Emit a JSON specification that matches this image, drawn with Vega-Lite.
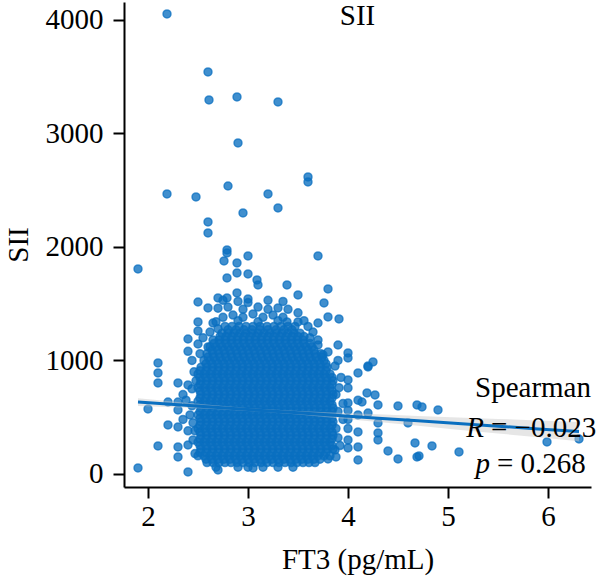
{
  "$schema": "https://vega.github.io/schema/vega-lite/v6.json",
  "width": 467,
  "height": 485,
  "autosize": "none",
  "padding": {"left": 124, "top": 2, "right": 9, "bottom": 97},
  "background": "white",
  "title": {"text": "SII", "anchor": "middle", "frame": "group", "offset": -29, "fontSize": 29, "font": "Liberation Serif", "fontWeight": "normal", "color": "black"},
  "config": {
    "font": "Liberation Serif",
    "view": {"stroke": null},
    "axis": {"domainColor": "black", "domainWidth": 2, "tickColor": "black", "tickWidth": 2, "tickSize": 11, "labelFontSize": 29, "titleFontSize": 29, "labelColor": "black", "titleColor": "black", "titleFontWeight": "normal", "labelFont": "Liberation Serif", "titleFont": "Liberation Serif", "grid": false}
  },
  "datasets": {
    "points": [
      {"x":2.19,"y":4053},{"x":2.6,"y":3542},{"x":2.61,"y":3295},{"x":2.89,"y":3322},{"x":3.3,"y":3278},{"x":2.9,"y":2916},{"x":2.19,"y":2467},{"x":2.48,"y":2441},{"x":2.8,"y":2537},{"x":3.2,"y":2467},{"x":2.95,"y":2300},{"x":3.3,"y":2344},{"x":2.6,"y":2220},{"x":2.6,"y":2123},{"x":3.6,"y":2617},{"x":3.6,"y":2573},{"x":2.79,"y":1974},{"x":1.9,"y":1806},{"x":2.79,"y":1947},{"x":3.0,"y":1921},{"x":2.76,"y":1877},{"x":2.89,"y":1859},{"x":2.89,"y":1771},{"x":3.0,"y":1762},{"x":2.79,"y":1727},{"x":3.09,"y":1709},{"x":3.1,"y":1665},{"x":2.89,"y":1595},{"x":2.5,"y":1515},{"x":2.7,"y":1551},{"x":2.79,"y":1551},{"x":3.0,"y":1542},{"x":2.6,"y":1463},{"x":2.5,"y":1339},{"x":2.5,"y":1260},{"x":2.4,"y":1189},{"x":2.5,"y":1145},{"x":2.6,"y":1119},{"x":2.1,"y":978},{"x":3.7,"y":1921},{"x":3.39,"y":1665},{"x":3.5,"y":1577},{"x":3.8,"y":1630},{"x":3.76,"y":1507},{"x":3.8,"y":1383},{"x":3.91,"y":1366},{"x":3.7,"y":1330},{"x":3.5,"y":1339},{"x":3.39,"y":1339},{"x":3.3,"y":1463},{"x":3.9,"y":1136},{"x":4.0,"y":1066},{"x":4.0,"y":1022},{"x":4.25,"y":987},{"x":4.2,"y":952},{"x":3.7,"y":1136},{"x":3.8,"y":1075},
      {"x":1.9,"y":53},{"x":2.1,"y":247},{"x":2.2,"y":432},{"x":2.0,"y":573},{"x":2.2,"y":634},{"x":2.3,"y":802},{"x":2.4,"y":784},{"x":2.1,"y":890},{"x":2.1,"y":802},{"x":2.3,"y":634},{"x":2.3,"y":564},{"x":2.3,"y":414},{"x":2.3,"y":238},{"x":2.3,"y":150},{"x":2.4,"y":256},{"x":2.4,"y":18},{"x":2.7,"y":35},{"x":3.05,"y":53},
      {"x":4.1,"y":890},{"x":4.2,"y":943},{"x":4.0,"y":828},{"x":4.0,"y":758},{"x":4.19,"y":714},{"x":4.27,"y":696},{"x":4.14,"y":634},{"x":4.3,"y":608},{"x":4.5,"y":599},{"x":4.69,"y":608},{"x":4.0,"y":626},{"x":4.2,"y":537},{"x":4.6,"y":449},{"x":4.3,"y":449},{"x":4.3,"y":361},{"x":4.3,"y":300},{"x":4.1,"y":370},{"x":4.0,"y":300},{"x":4.0,"y":229},{"x":3.87,"y":211},{"x":4.1,"y":238},{"x":4.4,"y":203},{"x":4.67,"y":273},{"x":4.5,"y":132},{"x":4.69,"y":150},{"x":4.1,"y":123},{"x":3.8,"y":132},{"x":4.9,"y":564},{"x":4.74,"y":590},{"x":4.84,"y":247},{"x":5.11,"y":194},{"x":5.99,"y":282},{"x":6.31,"y":308},{"x":4.71,"y":159},
      {"x":4.0,"y":400},{"x":4.0,"y":480},{"x":4.0,"y":560},{"x":4.1,"y":520},{"x":4.1,"y":650},
      {"x":2.45,"y":300},{"x":2.45,"y":450},{"x":2.44,"y":600},{"x":2.44,"y":750},{"x":2.42,"y":520},{"x":2.4,"y":380},{"x":2.38,"y":650},{"x":2.35,"y":480},{"x":2.46,"y":900},{"x":2.44,"y":1000},{"x":2.4,"y":1080},{"x":2.35,"y":700},
      {"x":3.88,"y":400},{"x":3.9,"y":550},{"x":3.88,"y":700},{"x":3.92,"y":250},{"x":3.93,"y":850},{"x":3.87,"y":950},{"x":3.9,"y":1000},{"x":3.88,"y":150},{"x":3.95,"y":480},{"x":3.95,"y":620},
      {"x":2.75,"y":1380},{"x":2.85,"y":1400},{"x":2.95,"y":1380},{"x":3.05,"y":1410},{"x":3.15,"y":1380},{"x":3.25,"y":1400},{"x":3.35,"y":1380},{"x":3.5,"y":1420},{"x":2.7,"y":1460},{"x":2.8,"y":1470},{"x":2.95,"y":1450},{"x":3.1,"y":1470},{"x":3.2,"y":1450},{"x":3.4,"y":1450},{"x":2.75,"y":1530},{"x":2.9,"y":1520},{"x":3.0,"y":1510},{"x":3.2,"y":1530},{"x":3.35,"y":1520},{"x":2.65,"y":1330},{"x":3.6,"y":1300},{"x":3.65,"y":1250},{"x":2.7,"y":1280},
      {"x":2.62,"y":1250},{"x":2.68,"y":1340},{"x":3.56,"y":1350},{"x":3.62,"y":1200},{"x":3.7,"y":1180},{"x":3.75,"y":1050},{"x":2.55,"y":1200},{"x":2.52,"y":1060},{"x":2.9,"y":1350},{"x":3.1,"y":1340},{"x":3.3,"y":1350},{"x":2.48,"y":820},{"x":2.47,"y":380},{"x":2.47,"y":180},{"x":3.9,"y":320},{"x":3.91,"y":760},
      {"x":2.68,"y":60},{"x":2.9,"y":60},{"x":3.0,"y":60},{"x":3.15,"y":60},{"x":3.3,"y":60},{"x":3.45,"y":60},
      {"x":2.59,"y":100},{"x":2.65,"y":100},{"x":2.71,"y":100},{"x":2.77,"y":100},{"x":2.83,"y":100},{"x":2.89,"y":100},{"x":2.95,"y":100},{"x":3.01,"y":100},{"x":3.07,"y":100},{"x":3.13,"y":100},{"x":3.19,"y":100},{"x":3.25,"y":100},{"x":3.31,"y":100},{"x":3.37,"y":100},{"x":3.43,"y":100},{"x":3.49,"y":100},{"x":3.55,"y":100},{"x":3.61,"y":100},{"x":3.67,"y":100},
      {"x":2.5,"y":160},{"x":2.56,"y":160},{"x":2.62,"y":160},{"x":2.68,"y":160},{"x":2.74,"y":160},{"x":2.8,"y":160},{"x":2.86,"y":160},{"x":2.92,"y":160},{"x":2.98,"y":160},{"x":3.04,"y":160},{"x":3.1,"y":160},{"x":3.16,"y":160},{"x":3.22,"y":160},{"x":3.28,"y":160},{"x":3.34,"y":160},{"x":3.4,"y":160},{"x":3.46,"y":160},{"x":3.52,"y":160},{"x":3.58,"y":160},{"x":3.64,"y":160},{"x":3.7,"y":160},{"x":3.76,"y":160},{"x":3.82,"y":160},
      {"x":2.53,"y":220},{"x":2.59,"y":220},{"x":2.65,"y":220},{"x":2.71,"y":220},{"x":2.77,"y":220},{"x":2.83,"y":220},{"x":2.89,"y":220},{"x":2.95,"y":220},{"x":3.01,"y":220},{"x":3.07,"y":220},{"x":3.13,"y":220},{"x":3.19,"y":220},{"x":3.25,"y":220},{"x":3.31,"y":220},{"x":3.37,"y":220},{"x":3.43,"y":220},{"x":3.49,"y":220},{"x":3.55,"y":220},{"x":3.61,"y":220},{"x":3.67,"y":220},{"x":3.73,"y":220},{"x":3.79,"y":220},{"x":3.85,"y":220},
      {"x":2.5,"y":280},{"x":2.56,"y":280},{"x":2.62,"y":280},{"x":2.68,"y":280},{"x":2.74,"y":280},{"x":2.8,"y":280},{"x":2.86,"y":280},{"x":2.92,"y":280},{"x":2.98,"y":280},{"x":3.04,"y":280},{"x":3.1,"y":280},{"x":3.16,"y":280},{"x":3.22,"y":280},{"x":3.28,"y":280},{"x":3.34,"y":280},{"x":3.4,"y":280},{"x":3.46,"y":280},{"x":3.52,"y":280},{"x":3.58,"y":280},{"x":3.64,"y":280},{"x":3.7,"y":280},{"x":3.76,"y":280},{"x":3.82,"y":280},
      {"x":2.53,"y":340},{"x":2.59,"y":340},{"x":2.65,"y":340},{"x":2.71,"y":340},{"x":2.77,"y":340},{"x":2.83,"y":340},{"x":2.89,"y":340},{"x":2.95,"y":340},{"x":3.01,"y":340},{"x":3.07,"y":340},{"x":3.13,"y":340},{"x":3.19,"y":340},{"x":3.25,"y":340},{"x":3.31,"y":340},{"x":3.37,"y":340},{"x":3.43,"y":340},{"x":3.49,"y":340},{"x":3.55,"y":340},{"x":3.61,"y":340},{"x":3.67,"y":340},{"x":3.73,"y":340},{"x":3.79,"y":340},{"x":3.85,"y":340},
      {"x":2.5,"y":400},{"x":2.56,"y":400},{"x":2.62,"y":400},{"x":2.68,"y":400},{"x":2.74,"y":400},{"x":2.8,"y":400},{"x":2.86,"y":400},{"x":2.92,"y":400},{"x":2.98,"y":400},{"x":3.04,"y":400},{"x":3.1,"y":400},{"x":3.16,"y":400},{"x":3.22,"y":400},{"x":3.28,"y":400},{"x":3.34,"y":400},{"x":3.4,"y":400},{"x":3.46,"y":400},{"x":3.52,"y":400},{"x":3.58,"y":400},{"x":3.64,"y":400},{"x":3.7,"y":400},{"x":3.76,"y":400},{"x":3.82,"y":400},
      {"x":2.53,"y":460},{"x":2.59,"y":460},{"x":2.65,"y":460},{"x":2.71,"y":460},{"x":2.77,"y":460},{"x":2.83,"y":460},{"x":2.89,"y":460},{"x":2.95,"y":460},{"x":3.01,"y":460},{"x":3.07,"y":460},{"x":3.13,"y":460},{"x":3.19,"y":460},{"x":3.25,"y":460},{"x":3.31,"y":460},{"x":3.37,"y":460},{"x":3.43,"y":460},{"x":3.49,"y":460},{"x":3.55,"y":460},{"x":3.61,"y":460},{"x":3.67,"y":460},{"x":3.73,"y":460},{"x":3.79,"y":460},{"x":3.85,"y":460},
      {"x":2.5,"y":520},{"x":2.56,"y":520},{"x":2.62,"y":520},{"x":2.68,"y":520},{"x":2.74,"y":520},{"x":2.8,"y":520},{"x":2.86,"y":520},{"x":2.92,"y":520},{"x":2.98,"y":520},{"x":3.04,"y":520},{"x":3.1,"y":520},{"x":3.16,"y":520},{"x":3.22,"y":520},{"x":3.28,"y":520},{"x":3.34,"y":520},{"x":3.4,"y":520},{"x":3.46,"y":520},{"x":3.52,"y":520},{"x":3.58,"y":520},{"x":3.64,"y":520},{"x":3.7,"y":520},{"x":3.76,"y":520},{"x":3.82,"y":520},
      {"x":2.53,"y":580},{"x":2.59,"y":580},{"x":2.65,"y":580},{"x":2.71,"y":580},{"x":2.77,"y":580},{"x":2.83,"y":580},{"x":2.89,"y":580},{"x":2.95,"y":580},{"x":3.01,"y":580},{"x":3.07,"y":580},{"x":3.13,"y":580},{"x":3.19,"y":580},{"x":3.25,"y":580},{"x":3.31,"y":580},{"x":3.37,"y":580},{"x":3.43,"y":580},{"x":3.49,"y":580},{"x":3.55,"y":580},{"x":3.61,"y":580},{"x":3.67,"y":580},{"x":3.73,"y":580},{"x":3.79,"y":580},{"x":3.85,"y":580},
      {"x":2.5,"y":640},{"x":2.56,"y":640},{"x":2.62,"y":640},{"x":2.68,"y":640},{"x":2.74,"y":640},{"x":2.8,"y":640},{"x":2.86,"y":640},{"x":2.92,"y":640},{"x":2.98,"y":640},{"x":3.04,"y":640},{"x":3.1,"y":640},{"x":3.16,"y":640},{"x":3.22,"y":640},{"x":3.28,"y":640},{"x":3.34,"y":640},{"x":3.4,"y":640},{"x":3.46,"y":640},{"x":3.52,"y":640},{"x":3.58,"y":640},{"x":3.64,"y":640},{"x":3.7,"y":640},{"x":3.76,"y":640},{"x":3.82,"y":640},
      {"x":2.53,"y":700},{"x":2.59,"y":700},{"x":2.65,"y":700},{"x":2.71,"y":700},{"x":2.77,"y":700},{"x":2.83,"y":700},{"x":2.89,"y":700},{"x":2.95,"y":700},{"x":3.01,"y":700},{"x":3.07,"y":700},{"x":3.13,"y":700},{"x":3.19,"y":700},{"x":3.25,"y":700},{"x":3.31,"y":700},{"x":3.37,"y":700},{"x":3.43,"y":700},{"x":3.49,"y":700},{"x":3.55,"y":700},{"x":3.61,"y":700},{"x":3.67,"y":700},{"x":3.73,"y":700},{"x":3.79,"y":700},{"x":3.85,"y":700},
      {"x":2.5,"y":760},{"x":2.56,"y":760},{"x":2.62,"y":760},{"x":2.68,"y":760},{"x":2.74,"y":760},{"x":2.8,"y":760},{"x":2.86,"y":760},{"x":2.92,"y":760},{"x":2.98,"y":760},{"x":3.04,"y":760},{"x":3.1,"y":760},{"x":3.16,"y":760},{"x":3.22,"y":760},{"x":3.28,"y":760},{"x":3.34,"y":760},{"x":3.4,"y":760},{"x":3.46,"y":760},{"x":3.52,"y":760},{"x":3.58,"y":760},{"x":3.64,"y":760},{"x":3.7,"y":760},{"x":3.76,"y":760},{"x":3.82,"y":760},
      {"x":2.53,"y":820},{"x":2.59,"y":820},{"x":2.65,"y":820},{"x":2.71,"y":820},{"x":2.77,"y":820},{"x":2.83,"y":820},{"x":2.89,"y":820},{"x":2.95,"y":820},{"x":3.01,"y":820},{"x":3.07,"y":820},{"x":3.13,"y":820},{"x":3.19,"y":820},{"x":3.25,"y":820},{"x":3.31,"y":820},{"x":3.37,"y":820},{"x":3.43,"y":820},{"x":3.49,"y":820},{"x":3.55,"y":820},{"x":3.61,"y":820},{"x":3.67,"y":820},{"x":3.73,"y":820},{"x":3.79,"y":820},{"x":3.85,"y":820},
      {"x":2.5,"y":880},{"x":2.56,"y":880},{"x":2.62,"y":880},{"x":2.68,"y":880},{"x":2.74,"y":880},{"x":2.8,"y":880},{"x":2.86,"y":880},{"x":2.92,"y":880},{"x":2.98,"y":880},{"x":3.04,"y":880},{"x":3.1,"y":880},{"x":3.16,"y":880},{"x":3.22,"y":880},{"x":3.28,"y":880},{"x":3.34,"y":880},{"x":3.4,"y":880},{"x":3.46,"y":880},{"x":3.52,"y":880},{"x":3.58,"y":880},{"x":3.64,"y":880},{"x":3.7,"y":880},{"x":3.76,"y":880},{"x":3.82,"y":880},
      {"x":2.53,"y":940},{"x":2.59,"y":940},{"x":2.65,"y":940},{"x":2.71,"y":940},{"x":2.77,"y":940},{"x":2.83,"y":940},{"x":2.89,"y":940},{"x":2.95,"y":940},{"x":3.01,"y":940},{"x":3.07,"y":940},{"x":3.13,"y":940},{"x":3.19,"y":940},{"x":3.25,"y":940},{"x":3.31,"y":940},{"x":3.37,"y":940},{"x":3.43,"y":940},{"x":3.49,"y":940},{"x":3.55,"y":940},{"x":3.61,"y":940},{"x":3.67,"y":940},{"x":3.73,"y":940},{"x":3.79,"y":940},
      {"x":2.56,"y":1000},{"x":2.62,"y":1000},{"x":2.68,"y":1000},{"x":2.74,"y":1000},{"x":2.8,"y":1000},{"x":2.86,"y":1000},{"x":2.92,"y":1000},{"x":2.98,"y":1000},{"x":3.04,"y":1000},{"x":3.1,"y":1000},{"x":3.16,"y":1000},{"x":3.22,"y":1000},{"x":3.28,"y":1000},{"x":3.34,"y":1000},{"x":3.4,"y":1000},{"x":3.46,"y":1000},{"x":3.52,"y":1000},{"x":3.58,"y":1000},{"x":3.64,"y":1000},{"x":3.7,"y":1000},{"x":3.76,"y":1000},
      {"x":2.59,"y":1060},{"x":2.65,"y":1060},{"x":2.71,"y":1060},{"x":2.77,"y":1060},{"x":2.83,"y":1060},{"x":2.89,"y":1060},{"x":2.95,"y":1060},{"x":3.01,"y":1060},{"x":3.07,"y":1060},{"x":3.13,"y":1060},{"x":3.19,"y":1060},{"x":3.25,"y":1060},{"x":3.31,"y":1060},{"x":3.37,"y":1060},{"x":3.43,"y":1060},{"x":3.49,"y":1060},{"x":3.55,"y":1060},{"x":3.61,"y":1060},{"x":3.67,"y":1060},{"x":3.73,"y":1060},
      {"x":2.62,"y":1120},{"x":2.68,"y":1120},{"x":2.74,"y":1120},{"x":2.8,"y":1120},{"x":2.86,"y":1120},{"x":2.92,"y":1120},{"x":2.98,"y":1120},{"x":3.04,"y":1120},{"x":3.1,"y":1120},{"x":3.16,"y":1120},{"x":3.22,"y":1120},{"x":3.28,"y":1120},{"x":3.34,"y":1120},{"x":3.4,"y":1120},{"x":3.46,"y":1120},{"x":3.52,"y":1120},{"x":3.58,"y":1120},{"x":3.64,"y":1120},
      {"x":2.65,"y":1180},{"x":2.71,"y":1180},{"x":2.77,"y":1180},{"x":2.83,"y":1180},{"x":2.89,"y":1180},{"x":2.95,"y":1180},{"x":3.01,"y":1180},{"x":3.07,"y":1180},{"x":3.13,"y":1180},{"x":3.19,"y":1180},{"x":3.25,"y":1180},{"x":3.31,"y":1180},{"x":3.37,"y":1180},{"x":3.43,"y":1180},{"x":3.49,"y":1180},{"x":3.55,"y":1180},
      {"x":2.74,"y":1240},{"x":2.8,"y":1240},{"x":2.86,"y":1240},{"x":2.92,"y":1240},{"x":2.98,"y":1240},{"x":3.04,"y":1240},{"x":3.1,"y":1240},{"x":3.16,"y":1240},{"x":3.22,"y":1240},{"x":3.28,"y":1240},{"x":3.34,"y":1240},{"x":3.4,"y":1240},{"x":3.46,"y":1240},{"x":3.52,"y":1240},
      {"x":2.77,"y":1300},{"x":2.84,"y":1300},{"x":2.91,"y":1300},{"x":2.98,"y":1300},{"x":3.05,"y":1300},{"x":3.12,"y":1300},{"x":3.19,"y":1300},{"x":3.26,"y":1300},{"x":3.33,"y":1300},{"x":3.4,"y":1300},{"x":3.47,"y":1300},
      {"x":2.58,"y":130},{"x":2.64,"y":130},{"x":2.7,"y":130},{"x":2.76,"y":130},{"x":2.82,"y":130},{"x":2.88,"y":130},{"x":2.94,"y":130},{"x":3.0,"y":130},{"x":3.06,"y":130},{"x":3.12,"y":130},{"x":3.18,"y":130},{"x":3.24,"y":130},{"x":3.3,"y":130},{"x":3.36,"y":130},{"x":3.42,"y":130},{"x":3.48,"y":130},{"x":3.54,"y":130},{"x":3.6,"y":130},{"x":3.66,"y":130},{"x":3.72,"y":130},
      {"x":2.52,"y":190},{"x":2.58,"y":190},{"x":2.64,"y":190},{"x":2.7,"y":190},{"x":2.76,"y":190},{"x":2.82,"y":190},{"x":2.88,"y":190},{"x":2.94,"y":190},{"x":3.0,"y":190},{"x":3.06,"y":190},{"x":3.12,"y":190},{"x":3.18,"y":190},{"x":3.24,"y":190},{"x":3.3,"y":190},{"x":3.36,"y":190},{"x":3.42,"y":190},{"x":3.48,"y":190},{"x":3.54,"y":190},{"x":3.6,"y":190},{"x":3.66,"y":190},{"x":3.72,"y":190},{"x":3.78,"y":190},
      {"x":2.52,"y":250},{"x":2.58,"y":250},{"x":2.64,"y":250},{"x":2.7,"y":250},{"x":2.76,"y":250},{"x":2.82,"y":250},{"x":2.88,"y":250},{"x":2.94,"y":250},{"x":3.0,"y":250},{"x":3.06,"y":250},{"x":3.12,"y":250},{"x":3.18,"y":250},{"x":3.24,"y":250},{"x":3.3,"y":250},{"x":3.36,"y":250},{"x":3.42,"y":250},{"x":3.48,"y":250},{"x":3.54,"y":250},{"x":3.6,"y":250},{"x":3.66,"y":250},{"x":3.72,"y":250},{"x":3.78,"y":250},{"x":3.84,"y":250},
      {"x":2.52,"y":310},{"x":2.58,"y":310},{"x":2.64,"y":310},{"x":2.7,"y":310},{"x":2.76,"y":310},{"x":2.82,"y":310},{"x":2.88,"y":310},{"x":2.94,"y":310},{"x":3.0,"y":310},{"x":3.06,"y":310},{"x":3.12,"y":310},{"x":3.18,"y":310},{"x":3.24,"y":310},{"x":3.3,"y":310},{"x":3.36,"y":310},{"x":3.42,"y":310},{"x":3.48,"y":310},{"x":3.54,"y":310},{"x":3.6,"y":310},{"x":3.66,"y":310},{"x":3.72,"y":310},{"x":3.78,"y":310},{"x":3.84,"y":310},
      {"x":2.52,"y":370},{"x":2.58,"y":370},{"x":2.64,"y":370},{"x":2.7,"y":370},{"x":2.76,"y":370},{"x":2.82,"y":370},{"x":2.88,"y":370},{"x":2.94,"y":370},{"x":3.0,"y":370},{"x":3.06,"y":370},{"x":3.12,"y":370},{"x":3.18,"y":370},{"x":3.24,"y":370},{"x":3.3,"y":370},{"x":3.36,"y":370},{"x":3.42,"y":370},{"x":3.48,"y":370},{"x":3.54,"y":370},{"x":3.6,"y":370},{"x":3.66,"y":370},{"x":3.72,"y":370},{"x":3.78,"y":370},{"x":3.84,"y":370},
      {"x":2.52,"y":430},{"x":2.58,"y":430},{"x":2.64,"y":430},{"x":2.7,"y":430},{"x":2.76,"y":430},{"x":2.82,"y":430},{"x":2.88,"y":430},{"x":2.94,"y":430},{"x":3.0,"y":430},{"x":3.06,"y":430},{"x":3.12,"y":430},{"x":3.18,"y":430},{"x":3.24,"y":430},{"x":3.3,"y":430},{"x":3.36,"y":430},{"x":3.42,"y":430},{"x":3.48,"y":430},{"x":3.54,"y":430},{"x":3.6,"y":430},{"x":3.66,"y":430},{"x":3.72,"y":430},{"x":3.78,"y":430},{"x":3.84,"y":430},
      {"x":2.52,"y":490},{"x":2.58,"y":490},{"x":2.64,"y":490},{"x":2.7,"y":490},{"x":2.76,"y":490},{"x":2.82,"y":490},{"x":2.88,"y":490},{"x":2.94,"y":490},{"x":3.0,"y":490},{"x":3.06,"y":490},{"x":3.12,"y":490},{"x":3.18,"y":490},{"x":3.24,"y":490},{"x":3.3,"y":490},{"x":3.36,"y":490},{"x":3.42,"y":490},{"x":3.48,"y":490},{"x":3.54,"y":490},{"x":3.6,"y":490},{"x":3.66,"y":490},{"x":3.72,"y":490},{"x":3.78,"y":490},{"x":3.84,"y":490},
      {"x":2.52,"y":550},{"x":2.58,"y":550},{"x":2.64,"y":550},{"x":2.7,"y":550},{"x":2.76,"y":550},{"x":2.82,"y":550},{"x":2.88,"y":550},{"x":2.94,"y":550},{"x":3.0,"y":550},{"x":3.06,"y":550},{"x":3.12,"y":550},{"x":3.18,"y":550},{"x":3.24,"y":550},{"x":3.3,"y":550},{"x":3.36,"y":550},{"x":3.42,"y":550},{"x":3.48,"y":550},{"x":3.54,"y":550},{"x":3.6,"y":550},{"x":3.66,"y":550},{"x":3.72,"y":550},{"x":3.78,"y":550},{"x":3.84,"y":550},
      {"x":2.52,"y":610},{"x":2.58,"y":610},{"x":2.64,"y":610},{"x":2.7,"y":610},{"x":2.76,"y":610},{"x":2.82,"y":610},{"x":2.88,"y":610},{"x":2.94,"y":610},{"x":3.0,"y":610},{"x":3.06,"y":610},{"x":3.12,"y":610},{"x":3.18,"y":610},{"x":3.24,"y":610},{"x":3.3,"y":610},{"x":3.36,"y":610},{"x":3.42,"y":610},{"x":3.48,"y":610},{"x":3.54,"y":610},{"x":3.6,"y":610},{"x":3.66,"y":610},{"x":3.72,"y":610},{"x":3.78,"y":610},{"x":3.84,"y":610},
      {"x":2.52,"y":670},{"x":2.58,"y":670},{"x":2.64,"y":670},{"x":2.7,"y":670},{"x":2.76,"y":670},{"x":2.82,"y":670},{"x":2.88,"y":670},{"x":2.94,"y":670},{"x":3.0,"y":670},{"x":3.06,"y":670},{"x":3.12,"y":670},{"x":3.18,"y":670},{"x":3.24,"y":670},{"x":3.3,"y":670},{"x":3.36,"y":670},{"x":3.42,"y":670},{"x":3.48,"y":670},{"x":3.54,"y":670},{"x":3.6,"y":670},{"x":3.66,"y":670},{"x":3.72,"y":670},{"x":3.78,"y":670},{"x":3.84,"y":670},
      {"x":2.52,"y":730},{"x":2.58,"y":730},{"x":2.64,"y":730},{"x":2.7,"y":730},{"x":2.76,"y":730},{"x":2.82,"y":730},{"x":2.88,"y":730},{"x":2.94,"y":730},{"x":3.0,"y":730},{"x":3.06,"y":730},{"x":3.12,"y":730},{"x":3.18,"y":730},{"x":3.24,"y":730},{"x":3.3,"y":730},{"x":3.36,"y":730},{"x":3.42,"y":730},{"x":3.48,"y":730},{"x":3.54,"y":730},{"x":3.6,"y":730},{"x":3.66,"y":730},{"x":3.72,"y":730},{"x":3.78,"y":730},{"x":3.84,"y":730},
      {"x":2.52,"y":790},{"x":2.58,"y":790},{"x":2.64,"y":790},{"x":2.7,"y":790},{"x":2.76,"y":790},{"x":2.82,"y":790},{"x":2.88,"y":790},{"x":2.94,"y":790},{"x":3.0,"y":790},{"x":3.06,"y":790},{"x":3.12,"y":790},{"x":3.18,"y":790},{"x":3.24,"y":790},{"x":3.3,"y":790},{"x":3.36,"y":790},{"x":3.42,"y":790},{"x":3.48,"y":790},{"x":3.54,"y":790},{"x":3.6,"y":790},{"x":3.66,"y":790},{"x":3.72,"y":790},{"x":3.78,"y":790},{"x":3.84,"y":790},
      {"x":2.52,"y":850},{"x":2.58,"y":850},{"x":2.64,"y":850},{"x":2.7,"y":850},{"x":2.76,"y":850},{"x":2.82,"y":850},{"x":2.88,"y":850},{"x":2.94,"y":850},{"x":3.0,"y":850},{"x":3.06,"y":850},{"x":3.12,"y":850},{"x":3.18,"y":850},{"x":3.24,"y":850},{"x":3.3,"y":850},{"x":3.36,"y":850},{"x":3.42,"y":850},{"x":3.48,"y":850},{"x":3.54,"y":850},{"x":3.6,"y":850},{"x":3.66,"y":850},{"x":3.72,"y":850},{"x":3.78,"y":850},{"x":3.84,"y":850},
      {"x":2.52,"y":910},{"x":2.58,"y":910},{"x":2.64,"y":910},{"x":2.7,"y":910},{"x":2.76,"y":910},{"x":2.82,"y":910},{"x":2.88,"y":910},{"x":2.94,"y":910},{"x":3.0,"y":910},{"x":3.06,"y":910},{"x":3.12,"y":910},{"x":3.18,"y":910},{"x":3.24,"y":910},{"x":3.3,"y":910},{"x":3.36,"y":910},{"x":3.42,"y":910},{"x":3.48,"y":910},{"x":3.54,"y":910},{"x":3.6,"y":910},{"x":3.66,"y":910},{"x":3.72,"y":910},{"x":3.78,"y":910},
      {"x":2.58,"y":970},{"x":2.64,"y":970},{"x":2.7,"y":970},{"x":2.76,"y":970},{"x":2.82,"y":970},{"x":2.88,"y":970},{"x":2.94,"y":970},{"x":3.0,"y":970},{"x":3.06,"y":970},{"x":3.12,"y":970},{"x":3.18,"y":970},{"x":3.24,"y":970},{"x":3.3,"y":970},{"x":3.36,"y":970},{"x":3.42,"y":970},{"x":3.48,"y":970},{"x":3.54,"y":970},{"x":3.6,"y":970},{"x":3.66,"y":970},{"x":3.72,"y":970},{"x":3.78,"y":970},
      {"x":2.6,"y":1030},{"x":2.66,"y":1030},{"x":2.72,"y":1030},{"x":2.78,"y":1030},{"x":2.84,"y":1030},{"x":2.9,"y":1030},{"x":2.96,"y":1030},{"x":3.02,"y":1030},{"x":3.08,"y":1030},{"x":3.14,"y":1030},{"x":3.2,"y":1030},{"x":3.26,"y":1030},{"x":3.32,"y":1030},{"x":3.38,"y":1030},{"x":3.44,"y":1030},{"x":3.5,"y":1030},{"x":3.56,"y":1030},{"x":3.62,"y":1030},{"x":3.68,"y":1030},{"x":3.74,"y":1030},
      {"x":2.64,"y":1090},{"x":2.7,"y":1090},{"x":2.76,"y":1090},{"x":2.82,"y":1090},{"x":2.88,"y":1090},{"x":2.94,"y":1090},{"x":3.0,"y":1090},{"x":3.06,"y":1090},{"x":3.12,"y":1090},{"x":3.18,"y":1090},{"x":3.24,"y":1090},{"x":3.3,"y":1090},{"x":3.36,"y":1090},{"x":3.42,"y":1090},{"x":3.48,"y":1090},{"x":3.54,"y":1090},{"x":3.6,"y":1090},{"x":3.66,"y":1090},
      {"x":2.66,"y":1150},{"x":2.72,"y":1150},{"x":2.78,"y":1150},{"x":2.84,"y":1150},{"x":2.9,"y":1150},{"x":2.96,"y":1150},{"x":3.02,"y":1150},{"x":3.08,"y":1150},{"x":3.14,"y":1150},{"x":3.2,"y":1150},{"x":3.26,"y":1150},{"x":3.32,"y":1150},{"x":3.38,"y":1150},{"x":3.44,"y":1150},{"x":3.5,"y":1150},{"x":3.56,"y":1150},{"x":3.62,"y":1150},
      {"x":2.72,"y":1210},{"x":2.78,"y":1210},{"x":2.84,"y":1210},{"x":2.9,"y":1210},{"x":2.96,"y":1210},{"x":3.02,"y":1210},{"x":3.08,"y":1210},{"x":3.14,"y":1210},{"x":3.2,"y":1210},{"x":3.26,"y":1210},{"x":3.32,"y":1210},{"x":3.38,"y":1210},{"x":3.44,"y":1210},{"x":3.5,"y":1210},{"x":3.56,"y":1210},
      {"x":2.8,"y":1270},{"x":2.88,"y":1270},{"x":2.96,"y":1270},{"x":3.04,"y":1270},{"x":3.12,"y":1270},{"x":3.2,"y":1270},{"x":3.28,"y":1270},{"x":3.36,"y":1270},{"x":3.44,"y":1270}
    ],
    "fit": [
      {"x":1.9,"y":633,"lo":599,"hi":667},
      {"x":2.3,"y":609,"lo":585,"hi":634},
      {"x":2.7,"y":586,"lo":570,"hi":602},
      {"x":3.1,"y":562,"lo":550,"hi":574},
      {"x":3.5,"y":539,"lo":523,"hi":555},
      {"x":3.9,"y":515,"lo":491,"hi":539},
      {"x":4.3,"y":491,"lo":458,"hi":525},
      {"x":4.7,"y":468,"lo":424,"hi":511},
      {"x":5.1,"y":444,"lo":390,"hi":498},
      {"x":5.5,"y":421,"lo":357,"hi":485},
      {"x":5.9,"y":397,"lo":323,"hi":471},
      {"x":6.31,"y":373,"lo":288,"hi":458}
    ],
    "notes": [
      {"x":5.85,"y":678,"label":"Spearman","part":"head"},
      {"x":5.36,"y":326,"label":"R","part":"sym"},
      {"x":5.36,"y":326,"label":"= −0.023","part":"val"},
      {"x":5.42,"y":9,"label":"p","part":"sym"},
      {"x":5.42,"y":9,"label":"= 0.268","part":"val"}
    ]
  },
  "encoding": {
    "x": {"field": "x", "type": "quantitative", "scale": {"domain": [1.76, 6.43], "nice": false, "zero": false}, "axis": {"values": [2, 3, 4, 5, 6], "title": "FT3 (pg/mL)", "labelPadding": 4, "titlePadding": 14}},
    "y": {"field": "y", "type": "quantitative", "scale": {"domain": [-115, 4158], "nice": false, "zero": false}, "axis": {"values": [0, 1000, 2000, 3000, 4000], "format": "d", "title": "SII", "labelPadding": 10, "titlePadding": 12}}
  },
  "layer": [
    {
      "data": {"name": "points"},
      "mark": {"type": "point", "shape": "circle", "filled": true, "size": 64, "fill": "#0a6fc0", "fillOpacity": 0.78, "stroke": "#0a6fc0", "strokeOpacity": 0.7, "strokeWidth": 1.5}
    },
    {
      "data": {"name": "fit"},
      "mark": {"type": "area", "color": "#c8c8c8", "opacity": 0.45},
      "encoding": {"y": {"field": "lo", "type": "quantitative"}, "y2": {"field": "hi"}}
    },
    {
      "data": {"name": "fit"},
      "mark": {"type": "line", "color": "#0a6fc0", "strokeWidth": 3}
    },
    {
      "data": {"name": "notes"},
      "transform": [{"filter": "datum.part === 'head'"}],
      "mark": {"type": "text", "align": "center", "baseline": "alphabetic", "fontSize": 29, "font": "Liberation Serif", "color": "black"},
      "encoding": {"text": {"field": "label"}}
    },
    {
      "data": {"name": "notes"},
      "transform": [{"filter": "datum.part === 'sym'"}],
      "mark": {"type": "text", "align": "right", "baseline": "alphabetic", "fontSize": 29, "font": "Liberation Serif", "fontStyle": "italic", "color": "black"},
      "encoding": {"text": {"field": "label"}}
    },
    {
      "data": {"name": "notes"},
      "transform": [{"filter": "datum.part === 'val'"}],
      "mark": {"type": "text", "align": "left", "baseline": "alphabetic", "dx": 7, "fontSize": 29, "font": "Liberation Serif", "color": "black"},
      "encoding": {"text": {"field": "label"}}
    }
  ]
}
